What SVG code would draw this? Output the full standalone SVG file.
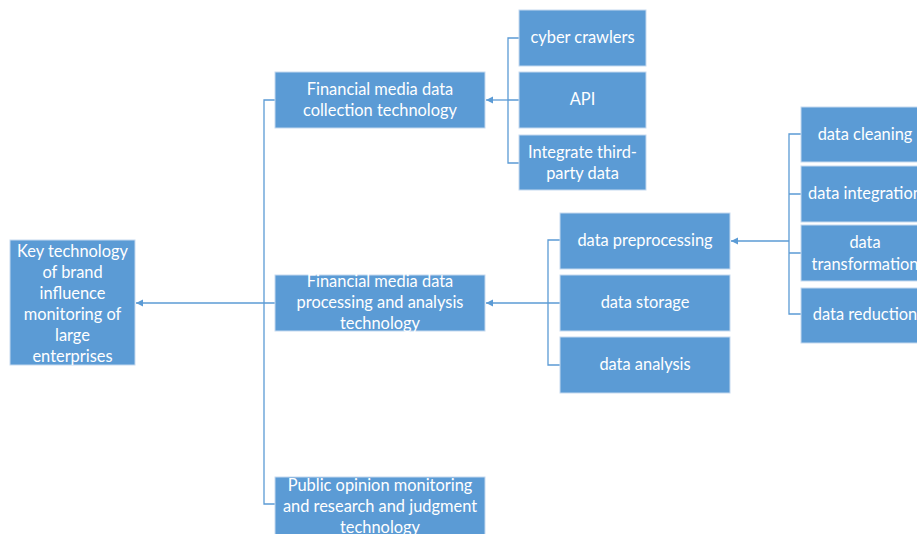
<svg xmlns="http://www.w3.org/2000/svg" width="917" height="534" viewBox="0 0 917 534">
<style>
.box{fill:#5B9BD5;stroke:#C5D9EF;stroke-width:1}
.t{font-family:Lato,"Liberation Sans",sans-serif;font-size:16.4px;fill:#FFFFFF;text-anchor:middle}
.c{fill:none;stroke:#5B9BD5;stroke-width:1.3}
</style>
<defs>
<marker id="ah" markerWidth="8" markerHeight="8" refX="7" refY="4" orient="auto" markerUnits="userSpaceOnUse">
<path d="M0,0.5 L7,4 L0,7.5 Z" fill="#5B9BD5"/>
</marker>
</defs>
<rect width="917" height="534" fill="#FFFFFF"/>
<g id="connectors">
<path class="c" d="M264,303 L136,303" marker-end="url(#ah)"/>
<path class="c" d="M275,100 L264,100 L264,504 L275,504 M264,303 L275,303"/>
<path class="c" d="M519,38 L508,38 L508,163 L519,163 M508,100 L519,100"/>
<path class="c" d="M508,100 L486,100" marker-end="url(#ah)"/>
<path class="c" d="M560,240 L548,240 L548,365 L560,365 M548,303 L560,303"/>
<path class="c" d="M548,303 L486,303" marker-end="url(#ah)"/>
<path class="c" d="M801,134 L789,134 L789,314 L801,314 M789,194 L801,194 M789,253 L801,253"/>
<path class="c" d="M789,241 L731,241" marker-end="url(#ah)"/>
</g>
<g id="root">
<rect class="box" x="10" y="240" width="125" height="125"/>
<text class="t"><tspan x="72.5" y="257">Key technology</tspan><tspan x="72.5" y="278">of brand</tspan><tspan x="72.5" y="299">influence</tspan><tspan x="72.5" y="320">monitoring of</tspan><tspan x="72.5" y="341">large</tspan><tspan x="72.5" y="362">enterprises</tspan></text>
</g>
<g id="collection">
<rect class="box" x="275" y="72" width="210" height="56"/>
<text class="t"><tspan x="380" y="95">Financial media data</tspan><tspan x="380" y="116">collection technology</tspan></text>
</g>
<g id="processing">
<rect class="box" x="275" y="275" width="210" height="56"/>
<text class="t"><tspan x="380" y="287">Financial media data</tspan><tspan x="380" y="308">processing and analysis</tspan><tspan x="380" y="329">technology</tspan></text>
</g>
<g id="opinion">
<rect class="box" x="275" y="477" width="210" height="70"/>
<text class="t"><tspan x="380" y="491">Public opinion monitoring</tspan><tspan x="380" y="512">and research and judgment</tspan><tspan x="380" y="533">technology</tspan></text>
</g>
<g id="crawlers">
<rect class="box" x="519" y="10" width="127" height="56"/>
<text class="t" x="582.5" y="43">cyber crawlers</text>
</g>
<g id="api">
<rect class="box" x="519" y="72" width="127" height="56"/>
<text class="t" x="582.5" y="105">API</text>
</g>
<g id="thirdparty">
<rect class="box" x="519" y="135" width="127" height="55"/>
<text class="t"><tspan x="582.5" y="158">Integrate third-</tspan><tspan x="582.5" y="179">party data</tspan></text>
</g>
<g id="preprocessing">
<rect class="box" x="560" y="213" width="170" height="56"/>
<text class="t" x="645" y="246">data preprocessing</text>
</g>
<g id="storage">
<rect class="box" x="560" y="275" width="170" height="56"/>
<text class="t" x="645" y="308">data storage</text>
</g>
<g id="analysis">
<rect class="box" x="560" y="337" width="170" height="56"/>
<text class="t" x="645" y="370">data analysis</text>
</g>
<g id="cleaning">
<rect class="box" x="801" y="107" width="128" height="55"/>
<text class="t" x="865" y="140">data cleaning</text>
</g>
<g id="integration">
<rect class="box" x="801" y="166" width="128" height="56"/>
<text class="t" x="865" y="199">data integration</text>
</g>
<g id="transformation">
<rect class="box" x="801" y="225" width="128" height="56"/>
<text class="t"><tspan x="865" y="248">data</tspan><tspan x="865" y="270">transformation</tspan></text>
</g>
<g id="reduction">
<rect class="box" x="801" y="288" width="128" height="55"/>
<text class="t" x="865" y="320">data reduction</text>
</g>
</svg>
